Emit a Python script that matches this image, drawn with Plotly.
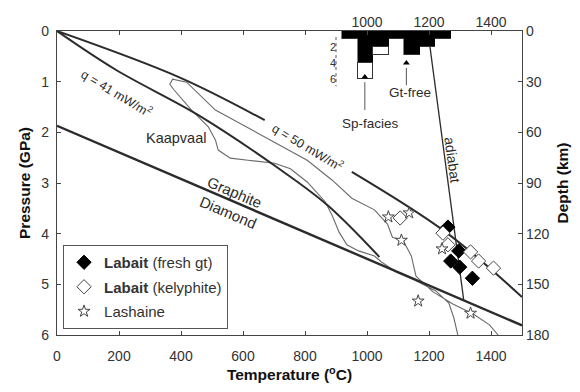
import plotly.graph_objects as go

# ---------------- data ----------------
# geotherms (T in degC, P in GPa)
q41_T = [0, 191, 456, 712, 871, 1040]
q41_P = [0, 0.77, 1.66, 2.70, 3.43, 4.46]
q50_T = [0, 393, 670, None, 951, 1254, 1500]
q50_P = [0, 0.91, 1.76, None, 2.78, 3.97, 5.25]
# graphite-diamond boundary
gd_T = [0, 1500]
gd_P = [1.87, 5.81]
# adiabat
ad_T = [1200, 1312]
ad_P = [0.17, 5.31]
# Kaapvaal xenolith field outline
kv_T = [1293, 1280, 1264, 1222, 1158, 1095, 1047, 1024, 973, 935, 910, 887, 865, 807,
        753, 702, 616, 559, 520, 511, 488, 434, 377, 364, 373, 418, 511, 616, 721, 807,
        887, 951, 1024, 1066, 1082, 1117, 1143, 1158, 1213, 1277, 1344, 1395, 1423]
kv_P = [6.0, 5.66, 5.37, 5.13, 4.93, 4.76, 4.56, 4.44, 4.34, 4.22, 3.97, 3.63, 3.37, 2.98,
        2.72, 2.61, 2.55, 2.51, 2.35, 2.15, 1.89, 1.56, 1.16, 1.05, 0.95, 1.01, 1.56, 1.91,
        2.25, 2.55, 2.94, 3.30, 3.53, 3.81, 4.07, 4.14, 4.44, 4.84, 5.15, 5.39, 5.59, 5.80, 6.0]
# xenolith P-T estimates
fresh_T = [1261, 1296, 1270, 1299, 1340]
fresh_P = [3.87, 4.34, 4.54, 4.66, 4.88]
kely_T = [1107, 1245, 1261, 1334, 1360, 1408]
kely_P = [3.69, 3.99, 4.22, 4.36, 4.54, 4.68]
lash_T = [1069, 1136, 1111, 1242, 1165, 1334]
lash_P = [3.67, 3.59, 4.13, 4.30, 5.33, 5.57]
# inset histogram (temperature bins, counts)
hist_T = [945, 995, 1045, 1095, 1145, 1195, 1245]
hist_black = [1, 4, 2, 1, 3, 2, 1]
hist_white = [0, 2, 1, 0, 0, 0, 0]
tri_T = [993, 1127]
tri_N = [5.75, 4.0]

x_ticks = [0, 200, 400, 600, 800, 1000, 1200, 1400]
p_ticks = [0, 1, 2, 3, 4, 5, 6]
depth_ticks = [0, 30, 60, 90, 120, 150, 180]
inset_xticks = [1000, 1200, 1400]
inset_yticks = [2, 4, 6]

# ---------------- figure ----------------
FONT = "Liberation Sans, Arial, sans-serif"
INK = "#2b2b2b"
fig = go.Figure()

fig.add_trace(go.Scatter(x=kv_T, y=kv_P, mode="lines", line=dict(color="#6a6a6a", width=1.1),
                         showlegend=False, hoverinfo="skip"))
fig.add_trace(go.Scatter(x=q41_T, y=q41_P, mode="lines", line=dict(color=INK, width=2),
                         line_shape="spline", showlegend=False))
fig.add_trace(go.Scatter(x=q50_T, y=q50_P, mode="lines", line=dict(color=INK, width=2),
                         line_shape="spline", showlegend=False, connectgaps=False))
fig.add_trace(go.Scatter(x=gd_T, y=gd_P, mode="lines", line=dict(color=INK, width=2.4),
                         showlegend=False))
fig.add_trace(go.Scatter(x=ad_T, y=ad_P, mode="lines", line=dict(color=INK, width=1.3),
                         showlegend=False))

fig.add_trace(go.Scatter(x=fresh_T, y=fresh_P, mode="markers", name="<b>Labait</b> (fresh gt)",
                         legendgroup="a",
                         marker=dict(symbol="diamond", size=11, color="black",
                                     line=dict(color="black", width=1))))
fig.add_trace(go.Scatter(x=kely_T, y=kely_P, mode="markers", name="<b>Labait</b> (kelyphite)",
                         legendgroup="b",
                         marker=dict(symbol="diamond", size=11, color="white",
                                     line=dict(color="#444", width=1))))
fig.add_trace(go.Scatter(x=lash_T, y=lash_P, mode="markers", name="Lashaine",
                         legendgroup="c",
                         marker=dict(symbol="star", size=9, color="white",
                                     line=dict(color="#444", width=1))))

# inset histogram
fig.add_trace(go.Bar(x=hist_T, y=hist_black, width=50, yaxis="y3",
                     marker=dict(color="black", line=dict(color="black", width=0.5)),
                     showlegend=False))
fig.add_trace(go.Bar(x=hist_T, y=hist_white, width=50, yaxis="y3",
                     marker=dict(color="white", line=dict(color="#333", width=1)),
                     showlegend=False))
fig.add_trace(go.Scatter(x=tri_T, y=tri_N, yaxis="y3", mode="markers",
                         marker=dict(symbol="triangle-up", size=6, color="black"),
                         showlegend=False))
# top axis for inset labels
fig.add_trace(go.Scatter(x=[None], y=[None], xaxis="x2", showlegend=False))

def F(size):
    return dict(family=FONT, size=size, color=INK)

annotations = [
    dict(x=195, y=1.22, text="q = 41 mW/m<sup>2</sup>", textangle=31, font=F(12.5)),
    dict(x=811, y=2.29, text="q = 50 mW/m<sup>2</sup>", textangle=31, font=F(12.5)),
    dict(x=383, y=2.11, text="Kaapvaal", font=F(14.5)),
    dict(x=575, y=3.18, text="Graphite", textangle=23, font=F(15)),
    dict(x=552, y=3.59, text="Diamond", textangle=23, font=F(15)),
    dict(x=1275, y=2.55, text="adiabat", textangle=82, font=F(14)),
    dict(x=1012, y=1.82, text="Sp-facies", font=F(13.5)),
    dict(x=1139, y=1.22, text="Gt-free", font=F(13.5)),
]
for a in annotations:
    a.update(xref="x", yref="y", showarrow=False)

shapes = [
    dict(type="line", xref="x", yref="y", x0=900, x1=900, y0=0.12, y1=1.09,
         line=dict(color="#555", width=1, dash="dot")),
    dict(type="line", xref="x", yref="y", x0=993, x1=993, y0=1.01, y1=1.56,
         line=dict(color="#555", width=1)),
    dict(type="line", xref="x", yref="y", x0=1127, x1=1127, y0=0.73, y1=1.07,
         line=dict(color="#555", width=1)),
]

axis_common = dict(showgrid=False, zeroline=False, linecolor="#444", linewidth=1.2,
                   tickcolor="#444", ticklen=4, ticks="inside",
                   tickfont=dict(family=FONT, size=14, color="#333"))

fig.update_layout(
    width=580, height=392,
    margin=dict(l=57, r=53, t=31, b=57),
    paper_bgcolor="white", plot_bgcolor="white",
    font=dict(family=FONT, color=INK),
    barmode="stack", bargap=0,
    xaxis=dict(range=[0, 1500], tickvals=x_ticks, showline=True, mirror="ticks",
               ticklabelstandoff=8,
               title=dict(text="<b>Temperature (<sup>o</sup>C)</b>", standoff=2,
                          font=dict(family=FONT, size=15.5, color="#111")),
               **axis_common),
    xaxis2=dict(range=[0, 1500], overlaying="x", side="top", tickvals=inset_xticks,
                showgrid=False, zeroline=False, showline=False, ticks="",
                tickfont=dict(family=FONT, size=14, color="#333")),
    yaxis=dict(range=[6, 0], tickvals=p_ticks, showline=True,
               ticklabelstandoff=4,
               title=dict(text="<b>Pressure (GPa)</b>", standoff=6,
                          font=dict(family=FONT, size=15.5, color="#111")),
               **axis_common),
    yaxis2=dict(range=[180, 0], overlaying="y", side="right", tickvals=depth_ticks,
                showline=True,
                title=dict(text="<b>Depth (km)</b>", standoff=8,
                           font=dict(family=FONT, size=15.5, color="#111")),
                **axis_common),
    yaxis3=dict(range=[38, 0], overlaying="y", anchor="free", position=0.6, side="left",
                tickvals=inset_yticks, showgrid=False, zeroline=False, showline=False,
                ticks="", tickfont=dict(family=FONT, size=11, color="#333")),
    legend=dict(x=0.013, y=0.296, xanchor="left", yanchor="top",
                bordercolor="#555", borderwidth=1, bgcolor="white",
                tracegroupgap=2, font=dict(family=FONT, size=15, color="#333")),
    annotations=annotations, shapes=shapes,
)
# right axis needs a dummy trace
fig.add_trace(go.Scatter(x=[0], y=[0], yaxis="y2", mode="markers", marker=dict(opacity=0),
                         showlegend=False, hoverinfo="skip"))

fig.write_html("out.html")
